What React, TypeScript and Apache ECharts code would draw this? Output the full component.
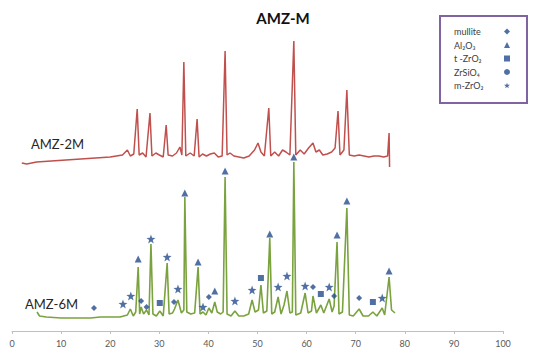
import React, { useEffect, useRef } from "react";
import * as echarts from "echarts";

// XRD pattern AMZ-2M (offset in intensity, a.u.) : [2θ, intensity]
const amz2m: [number, number][] = [
  [2.0, 168], [3, 167], [5, 169], [8, 170], [11, 171], [14, 172], [17, 173], [20, 174],
  [22.5, 176], [23.5, 181], [24.1, 175], [24.8, 177], [25.5, 222], [25.9, 176], [26.6, 178],
  [27.3, 174], [28.1, 218], [28.5, 175], [29.3, 178], [30.0, 176], [30.8, 174], [31.4, 206],
  [31.8, 176], [32.7, 175], [33.5, 178], [34.2, 184], [34.6, 176], [35.0, 269], [35.4, 175],
  [36.3, 178], [37.1, 175], [37.7, 212], [38.1, 174], [38.8, 177], [39.6, 175], [40.4, 177],
  [41.2, 178], [42.0, 174], [42.8, 175], [43.4, 280], [43.8, 176], [44.4, 178], [45.2, 175],
  [46.2, 174], [47.2, 173], [48.3, 175], [49.4, 181], [50.1, 188], [50.7, 179], [51.4, 175],
  [52.3, 223], [52.7, 175], [53.5, 179], [54.3, 175], [55.1, 181], [55.8, 179], [56.6, 176],
  [57.4, 290], [57.8, 176], [58.7, 181], [59.5, 177], [60.4, 183], [61.3, 188], [61.9, 179],
  [62.6, 181], [63.3, 176], [64.2, 177], [65.1, 179], [65.8, 183], [66.4, 220], [66.8, 176],
  [67.6, 181], [68.2, 241], [68.7, 176], [69.7, 175], [70.7, 176], [71.7, 175], [72.7, 174],
  [73.7, 175], [74.7, 175], [75.7, 174], [76.5, 175], [76.8, 198], [76.9, 164],
];

// XRD pattern AMZ-6M : [2θ, intensity]
const amz6m: [number, number][] = [
  [5.1, 19], [5.6, 15], [7, 14], [10, 13], [13, 13], [16, 13], [18, 14], [20, 14], [22, 14],
  [23.5, 16], [24.1, 22], [24.7, 15], [25.2, 19], [25.7, 64], [26.0, 17], [26.3, 24], [26.8, 17],
  [27.4, 21], [27.9, 16], [28.3, 87], [28.7, 17], [29.4, 15], [30.1, 20], [30.8, 15], [31.6, 68],
  [32.0, 17], [32.7, 18], [33.1, 22], [33.8, 31], [34.5, 18], [35.0, 21], [35.2, 134], [35.6, 19],
  [36.4, 17], [37.2, 18], [37.9, 64], [38.3, 17], [38.9, 19], [39.5, 16], [40.1, 23], [40.7, 18],
  [41.3, 29], [41.8, 19], [42.5, 17], [43.0, 19], [43.4, 154], [43.8, 17], [44.6, 15], [45.4, 20],
  [46.2, 15], [47.2, 15], [48.2, 17], [48.9, 31], [49.5, 19], [50.2, 21], [50.7, 46], [51.2, 18],
  [51.9, 20], [52.5, 93], [52.9, 17], [53.5, 19], [54.2, 34], [54.8, 17], [55.4, 26], [56.0, 40],
  [56.6, 18], [57.1, 19], [57.4, 169], [57.8, 16], [58.8, 18], [59.7, 38], [60.3, 18], [61.0, 20],
  [61.3, 35], [62.0, 18], [62.9, 26], [63.5, 18], [64.6, 32], [65.2, 19], [65.6, 25], [66.2, 89],
  [66.6, 17], [67.3, 19], [68.2, 123], [68.7, 16], [69.5, 15], [70.7, 22], [71.5, 15], [72.6, 15],
  [73.5, 19], [74.3, 15], [75.4, 23], [75.9, 16], [76.8, 54], [77.3, 21], [78.0, 18],
];

// Phase markers on AMZ-6M : [2θ, marker height]
const mullite: [number, number][] = [
  [16.7, 23], [26.3, 30], [27.4, 24], [33.0, 29], [40.1, 34], [61.3, 44], [65.6, 35], [70.7, 33],
];
const alumina: [number, number][] = [
  [25.7, 72], [35.2, 138], [37.9, 69], [41.3, 40], [43.4, 160], [52.5, 97], [57.4, 174],
  [66.2, 96], [68.2, 130], [76.8, 60],
];
const tZrO2: [number, number][] = [[30.1, 28], [50.7, 53], [62.9, 37], [73.5, 29]];
const zrSiO4: [number, number][] = [];
const mZrO2: [number, number][] = [
  [22.6, 27], [24.2, 35], [28.3, 92], [31.6, 74], [33.8, 42], [38.9, 24], [45.4, 30],
  [48.9, 41], [54.2, 44], [56.0, 55], [59.7, 45], [64.6, 44], [75.4, 33],
];

const xTicks = [0, 10, 20, 30, 40, 50, 60, 70, 80, 90, 100];
const phaseNames = ["mullite", "Al₂O₃", "t -ZrO₂", "ZrSiO₄", "m-ZrO₂"];

const STAR =
  "path://M0,-10 L2.35,-3.24 L9.51,-3.09 L3.8,1.24 L5.88,8.09 L0,4 L-5.88,8.09 L-3.8,1.24 L-9.51,-3.09 L-2.35,-3.24Z";
const MARK = "#244C8C";
const FONT = "Lato, 'Open Sans', sans-serif";

export default function App() {
  const ref = useRef<HTMLDivElement>(null);
  useEffect(() => {
    if (!ref.current) return;
    const chart = echarts.init(ref.current, null, { renderer: "svg" });
    const phase = (name: string, data: [number, number][], symbol: string, size: number) => ({
      name,
      type: "scatter",
      data,
      symbol,
      symbolSize: size,
      itemStyle: { color: MARK },
      z: 5,
    });
    chart.setOption({
      animation: false,
      backgroundColor: "#ffffff",
      textStyle: { fontFamily: FONT },
      title: {
        text: "AMZ-M",
        left: 278,
        top: 5,
        textAlign: "center",
        textStyle: { fontSize: 15, fontWeight: "bold", color: "#111", fontFamily: FONT },
      },
      legend: {
        orient: "vertical",
        left: 440,
        top: 16,
        padding: [11, 17, 13, 14],
        borderColor: "#8064A2",
        borderWidth: 2,
        backgroundColor: "#fff",
        align: "right",
        itemGap: 4.5,
        itemWidth: 6,
        itemHeight: 6,
        data: phaseNames,
        formatter: (n: string) => `{a|${n}}`,
        textStyle: {
          rich: {
            a: { width: 45, align: "left", fontSize: 9, lineHeight: 10, color: "#404040", fontFamily: FONT },
          },
        },
      },
      grid: { left: 12, right: 35, top: 11, bottom: 23 },
      xAxis: {
        type: "value",
        min: xTicks[0],
        max: xTicks[xTicks.length - 1],
        interval: 10,
        axisLine: { lineStyle: { color: "#BFBFBF", width: 1 } },
        axisTick: { show: true, length: 3, lineStyle: { color: "#BFBFBF" } },
        axisLabel: { color: "#595959", fontSize: 9, margin: 8, fontFamily: FONT },
        splitLine: { show: false },
      },
      yAxis: { type: "value", min: 0, max: 320, show: false },
      graphic: [
        { type: "text", left: 31, top: 137, style: { text: "AMZ-2M", fontSize: 13, fill: "#262626", fontFamily: FONT } },
        { type: "text", left: 25, top: 297, style: { text: "AMZ-6M", fontSize: 13, fill: "#262626", fontFamily: FONT } },
      ],
      series: [
        {
          name: "AMZ-2M",
          type: "line",
          data: amz2m,
          showSymbol: false,
          lineStyle: { color: "#C0504D", width: 1.5 },
          z: 2,
        },
        {
          name: "AMZ-6M",
          type: "line",
          data: amz6m,
          showSymbol: false,
          lineStyle: { color: "#7AA23E", width: 1.6 },
          z: 2,
        },
        phase(phaseNames[0], mullite, "diamond", 6),
        phase(phaseNames[1], alumina, "triangle", 7),
        phase(phaseNames[2], tZrO2, "rect", 6),
        phase(phaseNames[3], zrSiO4, "circle", 6),
        phase(phaseNames[4], mZrO2, STAR, 9),
      ],
    });
    return () => chart.dispose();
  }, []);
  return (
    <div
      ref={ref}
      style={{ position: "fixed", left: 0, top: 0, width: 538, height: 354, background: "#fff" }}
    />
  );
}
